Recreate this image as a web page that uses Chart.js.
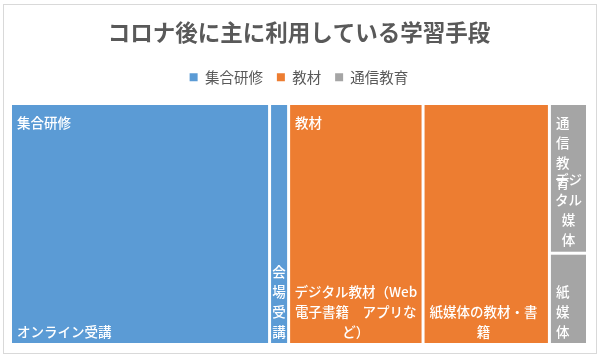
<!DOCTYPE html>
<html>
<head>
<meta charset="utf-8">
<script src="https://cdn.jsdelivr.net/npm/chart.js@4.4.1/dist/chart.umd.min.js"></script>
<style>
  html, body { margin: 0; padding: 0; background: #fff; }
  #wrap { width: 600px; height: 363px; }
</style>
</head>
<body>
<div id="wrap"><canvas id="chart"></canvas></div>
<script>
// Data
const groups = ['集合研修', '教材', '通信教育'];
const groupColors = ['#5b9bd5', '#ed7d31', '#a5a5a5'];
const items = ['オンライン受講', '会場受講', 'デジタル教材（Web電子書籍　アプリなど）', '紙媒体の教材・書籍', 'デジタル媒体', '紙媒体'];
const itemGroup = [0, 0, 1, 1, 2, 2];
const itemValues = [44.9, 3.3, 23.3, 21.9, 4.1, 2.5];
// label lines as wrapped in the picture
const itemLines = [
  ['オンライン受講'],
  ['会', '場', '受', '講'],
  ['デジタル教材（Web', '電子書籍　アプリな', 'ど）'],
  ['紙媒体の教材・書', '籍'],
  ['デジ', 'タル', '媒', '体'],
  ['紙', '媒', '体']
];
const groupLines = [['集合研修'], ['教材'], ['通', '信', '教', '育']];

const labelFont = '500 13.5px "Noto Sans CJK JP", sans-serif';
const lineH = 20;
const pad = 5;
const gap = 1.5;

// Squarified layout
function worst(row, side) {
  const s = row.reduce((a, b) => a + b, 0);
  const mx = Math.max(...row), mn = Math.min(...row);
  return Math.max(side * side * mx / (s * s), (s * s) / (side * side * mn));
}

function squarify(values, rect) {
  const total = values.reduce((a, b) => a + b, 0);
  const areas = values.map(v => v / total * rect.w * rect.h);
  const out = [];
  let { x, y, w, h } = rect;
  let i = 0;
  while (i < areas.length) {
    const side = Math.min(w, h);
    const row = [areas[i]];
    let j = i + 1;
    while (j < areas.length && worst(row.concat(areas[j]), side) <= worst(row, side)) {
      row.push(areas[j]);
      j++;
    }
    const s = row.reduce((a, b) => a + b, 0);
    if (w >= h) {
      const cw = s / h;
      let yy = y;
      row.forEach(a => { const rh = a / cw; out.push({ x: x, y: yy, w: cw, h: rh }); yy += rh; });
      x += cw; w -= cw;
    } else {
      const rh = s / w;
      let xx = x;
      row.forEach(a => { const rw = a / rh; out.push({ x: xx, y: y, w: rw, h: rh }); xx += rw; });
      y += rh; h -= rh;
    }
    i = j;
  }
  return out;
}

function drawLines(ctx, lines, r, fromTop) {
  ctx.font = labelFont;
  const widths = lines.map(l => ctx.measureText(l).width);
  const blockW = Math.max(...widths);
  const left = r.x + Math.max(0, Math.min(pad, (r.w - blockW) / 2));
  ctx.fillStyle = '#fff';
  ctx.textAlign = 'center';
  ctx.textBaseline = 'middle';
  lines.forEach((l, k) => {
    let cy;
    if (fromTop) cy = r.y + 17.5 + k * lineH;
    else cy = r.y + r.h - 11.5 - (lines.length - 1 - k) * lineH;
    ctx.fillText(l, left + blockW / 2, cy);
  });
}

const treemapPlugin = {
  id: 'treemap',
  beforeDraw(chart) {
    const ctx = chart.ctx;
    ctx.save();
    ctx.strokeStyle = '#d9d9d9';
    ctx.lineWidth = 1;
    ctx.strokeRect(3.5, 4.5, chart.width - 7, chart.height - 14);
    ctx.restore();
  },
  afterDatasetsDraw(chart) {
    const ctx = chart.ctx;
    const xs = chart.scales.x, ys = chart.scales.y;
    const frame = {
      x: xs.getPixelForValue(0),
      y: ys.getPixelForValue(1),
      w: xs.getPixelForValue(1) - xs.getPixelForValue(0),
      h: ys.getPixelForValue(0) - ys.getPixelForValue(1)
    };
    const totals = groups.map((g, gi) => itemValues.reduce((a, v, k) => a + (itemGroup[k] === gi ? v : 0), 0));
    const groupRects = squarify(totals, frame);
    ctx.save();
    groups.forEach((g, gi) => {
      const idx = items.map((_, k) => k).filter(k => itemGroup[k] === gi);
      const rects = squarify(idx.map(k => itemValues[k]), groupRects[gi]);
      rects.forEach((r, n) => {
        ctx.fillStyle = groupColors[gi];
        ctx.fillRect(r.x + gap, r.y + gap, r.w - 2 * gap, r.h - 2 * gap);
        drawLines(ctx, itemLines[idx[n]], { x: r.x + gap, y: r.y + gap, w: r.w - 2 * gap, h: r.h - 2 * gap }, false);
      });
      const gr = groupRects[gi];
      drawLines(ctx, groupLines[gi], { x: gr.x + gap, y: gr.y + gap, w: gr.w - 2 * gap, h: gr.h - 2 * gap }, true);
    });
    ctx.restore();
  }
};

const chart = new Chart(document.getElementById('chart'), {
  type: 'scatter',
  data: {
    datasets: groups.map((g, gi) => ({
      label: g,
      data: [],
      backgroundColor: groupColors[gi],
      borderColor: groupColors[gi],
      borderWidth: 0
    }))
  },
  options: {
    responsive: true,
    maintainAspectRatio: false,
    animation: false,
    layout: { padding: { left: 10.5, right: 12.5, top: 0, bottom: 18.5 } },
    scales: {
      // top axis kept only as a spacer under the legend
      x: {
        type: 'linear', min: 0, max: 1, position: 'top',
        grid: { display: false }, border: { display: false }, ticks: { display: false },
        afterFit: (s) => { s.height = 9; }
      },
      y: { type: 'linear', min: 0, max: 1, display: false }
    },
    plugins: {
      title: {
        display: true,
        text: 'コロナ後に主に利用している学習手段',
        color: '#595959',
        font: { family: '"Noto Sans CJK JP", sans-serif', size: 22.5, weight: 'bold' },
        padding: { top: 19, bottom: 10 }
      },
      legend: {
        display: true,
        labels: {
          color: '#595959',
          font: { family: '"Noto Sans CJK JP", sans-serif', size: 14.5 },
          boxWidth: 8,
          boxHeight: 8,
          padding: 14
        }
      },
      tooltip: { enabled: false }
    }
  },
  plugins: [treemapPlugin]
});
</script>
</body>
</html>
